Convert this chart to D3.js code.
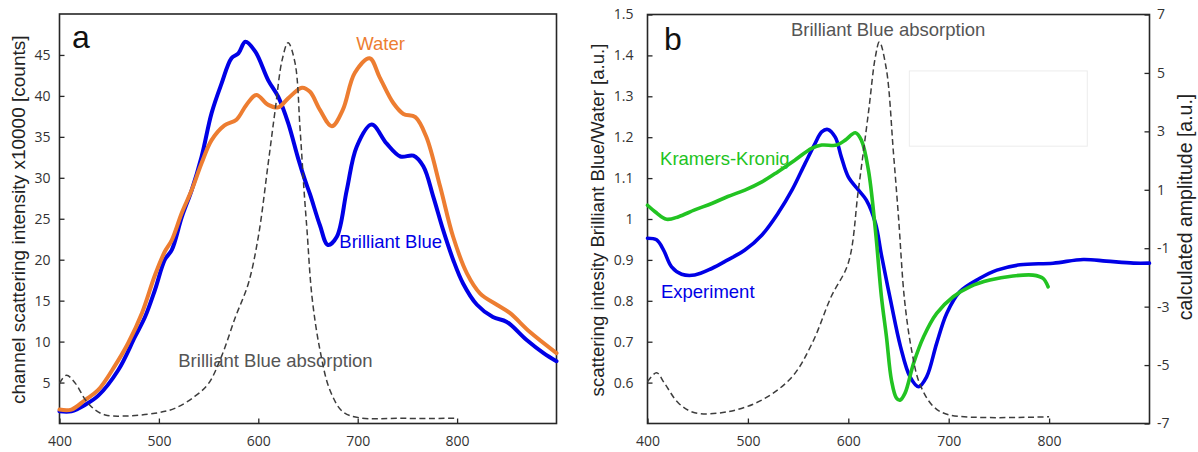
<!DOCTYPE html>
<html>
<head>
<meta charset="utf-8">
<script src="https://cdn.jsdelivr.net/npm/d3@7"></script>
<style>
  html, body { margin: 0; padding: 0; background: #fff; }
  svg { display: block; }
</style>
</head>
<body>
<svg id="chart" width="1198" height="452"></svg>
<script>
// ---------- Panel a: channel scattering intensity (x10000 counts) ----------
const nmBlueA = [400, 412, 426, 439, 459, 476, 486, 496, 506, 513, 523, 533, 543, 553, 563, 573, 580, 587, 597, 610, 620, 630, 640, 647, 652, 662, 670, 679, 689, 699, 714, 729, 743, 756, 766, 776, 786, 796, 806, 820, 836, 850, 870, 887, 900];
const blueA   = [1.5, 1.5, 2.3, 3.4, 6.5, 10.6, 13, 16.3, 20, 21.2, 25.2, 28.5, 32.6, 37.9, 41.5, 44.6, 45.2, 46.6, 45.4, 41.9, 39.9, 36.7, 32.4, 29.7, 28, 24.2, 21.8, 22.8, 28.5, 33.8, 36.5, 34.2, 32.6, 32.7, 31.4, 27.7, 23.6, 20, 17.1, 14.5, 13, 12.4, 10.2, 8.6, 7.6];

const nmWaterA = [400, 412, 426, 439, 456, 469, 483, 496, 506, 513, 523, 533, 543, 553, 566, 578, 588, 598, 610, 620, 630, 644, 652, 662, 674, 685, 697, 712, 722, 736, 746, 758, 769, 783, 796, 810, 823, 840, 853, 873, 900];
const waterA   = [1.7, 1.7, 2.9, 4.1, 7.1, 9.8, 13.5, 18.1, 21, 22.4, 25.7, 28.5, 31.8, 34.6, 36.4, 37.1, 38.9, 40.1, 38.9, 38.6, 39.7, 41, 40.5, 38.3, 36.3, 38.3, 42.8, 44.6, 42.3, 39.1, 37.8, 37.4, 35, 28.9, 22.8, 18.3, 15.9, 14.5, 13.5, 11.2, 8.6];

// dye absorption spectrum (arbitrary units, drawn dashed)
const nmAbsA = [400, 407, 416, 426, 436, 446, 463, 496, 516, 536, 550, 563, 577, 590, 600, 610, 617, 624, 630, 637, 642, 646, 649, 654, 662, 672, 685, 702, 742, 800];
const absA   = [4.9, 5.9, 4.9, 2.9, 1.65, 1.04, 0.9, 1.25, 1.85, 3.3, 4.9, 8.2, 13, 17.1, 22.8, 31.8, 38.3, 44.4, 46.5, 44, 36, 28.5, 23.6, 15.5, 9, 4.1, 1.44, 0.7, 0.63, 0.63];

const xTicksA = [400, 500, 600, 700, 800];
const yTicksA = [5, 10, 15, 20, 25, 30, 35, 40, 45];

// ---------- Panel b: ratio Brilliant Blue / Water and Kramers-Kronig amplitude ----------
const nmExpB = [400, 409, 416, 424, 434, 447, 464, 480, 497, 514, 530, 544, 557, 567, 573.5, 579.5, 587, 593, 600, 610, 618, 627, 633, 642, 652, 661.5, 670, 678, 688, 698, 711, 731, 748, 771, 804, 834, 857, 884, 900];
const expB   = [0.953, 0.949, 0.924, 0.883, 0.865, 0.863, 0.879, 0.9, 0.924, 0.961, 1.014, 1.071, 1.136, 1.185, 1.213, 1.219, 1.2, 1.152, 1.103, 1.071, 1.046, 0.99, 0.912, 0.802, 0.688, 0.614, 0.59, 0.614, 0.696, 0.769, 0.822, 0.855, 0.875, 0.888, 0.892, 0.901, 0.897, 0.892, 0.892];

const nmKKB = [400, 407.5, 419, 431, 447, 464, 480, 497, 514, 530, 547, 563.5, 573.5, 588.5, 597, 607, 613, 620, 627, 633, 638, 643, 648, 651.5, 656.5, 665, 675, 688, 704.5, 721, 741, 764, 784, 794, 799];
const kkB   = [0.47, 0.25, -0.01, 0.08, 0.31, 0.53, 0.77, 0.99, 1.27, 1.62, 2.02, 2.42, 2.53, 2.53, 2.7, 2.95, 2.7, 1.68, -0.38, -2.66, -4.03, -5.52, -6.13, -6.2, -5.96, -4.94, -4.03, -3.23, -2.66, -2.32, -2.09, -1.95, -1.92, -2.03, -2.32];

const nmAbsB = [400, 409, 417, 431, 447, 480, 514, 544, 564, 583, 600, 610, 620, 627, 631, 638, 645, 650, 656, 663, 671, 685, 701, 800];
const absB   = [5.1, 6.2, 4.9, 2.47, 1.32, 1.44, 2.87, 5.7, 9.8, 15.5, 19.6, 28.5, 37.9, 44.8, 46.6, 43.2, 33, 25.2, 15.1, 9, 4.9, 2.05, 1.04, 0.83];

const xTicksB = [400, 500, 600, 700, 800];
const yTicksLeftB = [0.6, 0.7, 0.8, 0.9, 1.0, 1.1, 1.2, 1.3, 1.4, 1.5];
const yTicksRightB = [-7, -5, -3, -1, 1, 3, 5, 7];

// ---------- styling ----------
const LABEL_FONT = "'Liberation Sans', Arial, sans-serif";
const TICK_FONT = "'Open Sans', 'Liberation Sans', sans-serif";
const BLUE = "#0000e6";
const ORANGE = "#ed7d31";
const GREEN = "#22c322";
const GREY = "#555555";
const FRAME = "#262626";

const svg = d3.select("#chart");

function zip(xs, ys) { return xs.map((x, i) => [x, ys[i]]); }

function drawLine(g, x, y, pts, color, width, dash) {
  const line = d3.line().x(d => x(d[0])).y(d => y(d[1])).curve(d3.curveCatmullRom.alpha(0.5));
  const p = g.append("path").datum(pts)
    .attr("d", line)
    .attr("fill", "none")
    .attr("stroke", color)
    .attr("stroke-width", width)
    .attr("stroke-linejoin", "round")
    .attr("stroke-linecap", "round");
  if (dash) p.attr("stroke-dasharray", dash).attr("stroke-linecap", "butt");
  return p;
}

function styleAxis(g) {
  g.select(".domain").remove();
  g.selectAll(".tick line").attr("stroke", FRAME).attr("stroke-width", 1.3);
  g.selectAll(".tick text")
    .attr("font-family", TICK_FONT)
    .attr("font-size", 14)
    .attr("fill", "#333");
}

function addText(g, txt, x, y, size, color, anchor) {
  return g.append("text")
    .attr("x", x).attr("y", y)
    .attr("font-family", LABEL_FONT)
    .attr("font-size", size)
    .attr("fill", color)
    .attr("text-anchor", anchor || "start")
    .text(txt);
}

// ================= Panel a =================
const xA = d3.scaleLinear().domain([400, 900]).range([59.5, 556.5]);
const yA = d3.scaleLinear().domain([0, 50]).range([423.5, 14]);
const gA = svg.append("g");

gA.append("g").attr("transform", `translate(0,${yA(0)})`)
  .call(d3.axisBottom(xA).tickValues(xTicksA).tickSize(-5).tickPadding(13).tickFormat(d3.format("d")))
  .call(styleAxis);
gA.append("g").attr("transform", `translate(${xA(400)},0)`)
  .call(d3.axisLeft(yA).tickValues(yTicksA).tickSize(-5).tickPadding(9).tickFormat(d3.format("d")))
  .call(styleAxis);

gA.append("rect")
  .attr("x", xA(400)).attr("y", yA(50))
  .attr("width", xA(900) - xA(400)).attr("height", yA(0) - yA(50))
  .attr("fill", "none").attr("stroke", FRAME).attr("stroke-width", 1.6);

addText(gA, "Brilliant Blue absorption", xA(519.5), yA(6.9), 18.5, GREY);
drawLine(gA, xA, yA, zip(nmBlueA, blueA), BLUE, 4);
drawLine(gA, xA, yA, zip(nmWaterA, waterA), ORANGE, 4);
drawLine(gA, xA, yA, zip(nmAbsA, absA), "#3d3d3d", 1.5, "6,3.5");

addText(gA, "Water", xA(698.5), yA(45.6), 18.5, ORANGE);
addText(gA, "Brilliant Blue", xA(681.5), yA(21.4), 18.5, BLUE);
addText(gA, "a", 72, 48, 32, "#111");

gA.append("text")
  .attr("transform", `translate(25,${(yA(0) + yA(50)) / 2 + 1}) rotate(-90)`)
  .attr("text-anchor", "middle")
  .attr("font-family", LABEL_FONT)
  .attr("font-size", 19)
  .attr("fill", "#222")
  .text("channel scattering intensity x10000 [counts]");

// ================= Panel b =================
const xB = d3.scaleLinear().domain([400, 900]).range([647.5, 1149.5]);
const yL = d3.scaleLinear().domain([0.5, 1.5]).range([423.5, 14.5]);
const yR = d3.scaleLinear().domain([-7, 7]).range([423.5, 14.5]);
const yAbsB = d3.scaleLinear().domain([0, 50]).range([423.5, 14]);
const gB = svg.append("g");

gB.append("g").attr("transform", `translate(0,${yL(0.5)})`)
  .call(d3.axisBottom(xB).tickValues(xTicksB).tickSize(-5).tickPadding(13).tickFormat(d3.format("d")))
  .call(styleAxis);
gB.append("g").attr("transform", `translate(${xB(400)},0)`)
  .call(d3.axisLeft(yL).tickValues(yTicksLeftB).tickSize(-5).tickPadding(14)
    .tickFormat(d => (d === 1 ? "1" : d.toFixed(1))))
  .call(styleAxis);
gB.append("g").attr("transform", `translate(${xB(900)},0)`)
  .call(d3.axisRight(yR).tickValues(yTicksRightB).tickSize(-5).tickPadding(7.5)
    .tickFormat(d => String(d)))
  .call(styleAxis);

gB.append("rect")
  .attr("x", xB(400)).attr("y", yL(1.5))
  .attr("width", xB(900) - xB(400)).attr("height", yL(0.5) - yL(1.5))
  .attr("fill", "none").attr("stroke", FRAME).attr("stroke-width", 1.6);

// empty text frame inside the plot
gB.append("rect")
  .attr("x", xB(660.8)).attr("y", yL(1.362))
  .attr("width", xB(838) - xB(660.8)).attr("height", yL(1.178) - yL(1.362))
  .attr("fill", "none").attr("stroke", "#ececec").attr("stroke-width", 1);

drawLine(gB, xB, yL, zip(nmExpB, expB), BLUE, 3.6);
drawLine(gB, xB, yR, zip(nmKKB, kkB), GREEN, 3.6);
drawLine(gB, xB, yAbsB, zip(nmAbsB, absB), "#3d3d3d", 1.5, "6,3.5");

addText(gB, "Brilliant Blue absorption", xB(542.9), yL(1.447), 18.5, GREY);
addText(gB, "Kramers-Kronig", xB(412.5), yL(1.132), 18.5, GREEN);
addText(gB, "Experiment", xB(413.4), yL(0.807), 18.5, BLUE);
addText(gB, "b", 664, 50, 32, "#111");

gB.append("text")
  .attr("transform", `translate(604,${(yL(0.5) + yL(1.5)) / 2 + 1}) rotate(-90)`)
  .attr("text-anchor", "middle")
  .attr("font-family", LABEL_FONT)
  .attr("font-size", 18.6)
  .attr("fill", "#222")
  .text("scattering intesity Brilliant Blue/Water [a.u.]");

gB.append("text")
  .attr("transform", `translate(1192,207) rotate(-90)`)
  .attr("text-anchor", "middle")
  .attr("font-family", LABEL_FONT)
  .attr("font-size", 19.5)
  .attr("fill", "#222")
  .text("calculated amplitude [a.u.]");
</script>
</body>
</html>
